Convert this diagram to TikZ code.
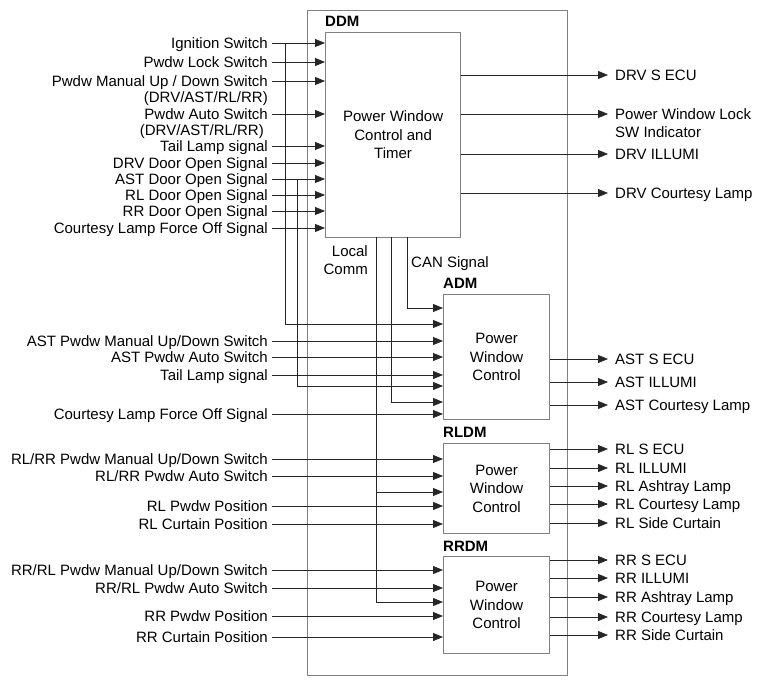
\documentclass[tikz,border=0pt]{standalone}
\usepackage{fontspec}
\setmainfont{Liberation Sans}
\usetikzlibrary{arrows.meta}
\begin{document}
\begin{tikzpicture}[x=1pt,y=-1pt,
  lbl/.style={inner sep=0pt, text height=10.8pt, text depth=0pt, font=\fontsize{15}{16}\selectfont},
  inl/.style={lbl, anchor=east},
  outl/.style={lbl, anchor=west},
  box/.style={draw=black!50, line width=1.2pt, anchor=north west, inner sep=0pt},
  boxtext/.style={align=center, font=\fontsize{15}{18.5}\selectfont},
  title/.style={inner sep=0pt, anchor=base west, font=\fontsize{15}{16}\selectfont\bfseries},
  conn/.style={draw=black!85, line width=0.8pt},
  arr/.style={conn, -{Triangle[length=10pt,width=8pt]}},
]
\useasboundingbox (0,0) rectangle (765,685);

% boxes
\node[box, minimum width=260pt, minimum height=665pt] (outer) at (307,10) {};
\node[box, boxtext, minimum width=135pt, minimum height=205pt] (ddm) at (325,32) {Power Window\\Control and\\Timer};
\node[box, boxtext, minimum width=106pt, minimum height=125pt] (adm) at (443,294) {Power\\Window\\Control};
\node[box, boxtext, minimum width=106pt, minimum height=90pt] (rldm) at (443,443) {Power\\Window\\Control};
\node[box, boxtext, minimum width=106pt, minimum height=97pt] (rrdm) at (443,556) {Power\\Window\\Control};

% titles
\node[title] (tddm) at (325,27) {DDM};
\node[title] (tadm) at (443,288) {ADM};
\node[title] (trldm) at (443,437) {RLDM};
\node[title] (trrdm) at (443,551) {RRDM};
\node[inner sep=0pt, anchor=east, align=right, font=\fontsize{15}{18}\selectfont] (lcomm) at (368,260.5) {Local\\Comm};
\node[lbl, anchor=west] (can) at (411,262) {CAN Signal};

% DDM inputs
\node[inl] (i1) at (268,43) {Ignition Switch};
\node[inl] (i2) at (268,62) {Pwdw Lock Switch};
\node[inl] (i3) at (268,81) {Pwdw Manual Up / Down Switch};
\node[inl] (i3b) at (268,97) {(DRV/AST/RL/RR)};
\node[inl] (i4) at (268,114) {Pwdw Auto Switch};
\node[inl] (i4b) at (264,130) {(DRV/AST/RL/RR)};
\node[inl] (i5) at (268,146) {Tail Lamp signal};
\node[inl] (i6) at (268,163) {DRV Door Open Signal};
\node[inl] (i7) at (268,179) {AST Door Open Signal};
\node[inl] (i8) at (268,195) {RL Door Open Signal};
\node[inl] (i9) at (268,211) {RR Door Open Signal};
\node[inl] (i10) at (268,228) {Courtesy Lamp Force Off Signal};
\foreach \n in {i1,i2,i3,i4,i5,i6,i7,i8,i9,i10}
  \draw[arr] ([xshift=4pt]\n.east) -- (ddm.west |- \n);

% DDM outputs
\node[outl] (o1) at (615,75) {DRV S ECU};
\node[outl] (o2) at (615,114) {Power Window Lock};
\node[outl] (o2b) at (615,132) {SW Indicator};
\node[outl] (o3) at (615,154) {DRV ILLUMI};
\node[outl] (o4) at (615,193) {DRV Courtesy Lamp};
\foreach \n in {o1,o2,o3,o4}
  \draw[arr] (ddm.east |- \n) -- ([xshift=-7pt]\n.west);

% ADM inputs
\node[inl] (a1) at (268,341) {AST Pwdw Manual Up/Down Switch};
\node[inl] (a2) at (268,357) {AST Pwdw Auto Switch};
\node[inl] (a3) at (268,375) {Tail Lamp signal};
\node[inl] (a4) at (268,414) {Courtesy Lamp Force Off Signal};
\foreach \n in {a1,a2,a3,a4}
  \draw[arr] ([xshift=4pt]\n.east) -- (adm.west |- \n);

% ADM outputs
\node[outl] (ao1) at (615,359) {AST S ECU};
\node[outl] (ao2) at (615,382) {AST ILLUMI};
\node[outl] (ao3) at (615,405) {AST Courtesy Lamp};
\foreach \n in {ao1,ao2,ao3}
  \draw[arr] (adm.east |- \n) -- ([xshift=-7pt]\n.west);

% RLDM inputs
\node[inl] (r1) at (268,459) {RL/RR Pwdw Manual Up/Down Switch};
\node[inl] (r2) at (268,476) {RL/RR Pwdw Auto Switch};
\node[inl] (r3) at (268,506) {RL Pwdw Position};
\node[inl] (r4) at (268,524) {RL Curtain Position};
\foreach \n in {r1,r2,r3,r4}
  \draw[arr] ([xshift=4pt]\n.east) -- (rldm.west |- \n);

% RLDM outputs
\node[outl] (ro1) at (615,449) {RL S ECU};
\node[outl] (ro2) at (615,468) {RL ILLUMI};
\node[outl] (ro3) at (615,486) {RL Ashtray Lamp};
\node[outl] (ro4) at (615,504) {RL Courtesy Lamp};
\node[outl] (ro5) at (615,523) {RL Side Curtain};
\foreach \n in {ro1,ro2,ro3,ro4,ro5}
  \draw[arr] (rldm.east |- \n) -- ([xshift=-7pt]\n.west);

% RRDM inputs
\node[inl] (s1) at (268,570) {RR/RL Pwdw Manual Up/Down Switch};
\node[inl] (s2) at (268,588) {RR/RL Pwdw Auto Switch};
\node[inl] (s3) at (268,616) {RR Pwdw Position};
\node[inl] (s4) at (268,637) {RR Curtain Position};
\foreach \n in {s1,s2,s3,s4}
  \draw[arr] ([xshift=4pt]\n.east) -- (rrdm.west |- \n);

% RRDM outputs
\node[outl] (so1) at (615,560) {RR S ECU};
\node[outl] (so2) at (615,578) {RR ILLUMI};
\node[outl] (so3) at (615,597) {RR Ashtray Lamp};
\node[outl] (so4) at (615,617) {RR Courtesy Lamp};
\node[outl] (so5) at (615,635) {RR Side Curtain};
\foreach \n in {so1,so2,so3,so4,so5}
  \draw[arr] (rrdm.east |- \n) -- ([xshift=-7pt]\n.west);

% branch lines
\coordinate (j1) at (285,43);
\coordinate (j2) at (297,179);
\coordinate (b1) at (376,237);
\coordinate (b2) at (391,237);
\coordinate (b3) at (407,237);
\coordinate (ja1) at (443,308);
\coordinate (ja2) at (443,324);
\coordinate (ja3) at (443,386);
\coordinate (ja4) at (443,402);
\coordinate (jl) at (443,492);
\coordinate (jr) at (443,602);
\coordinate (k1) at (376,492);

\draw[arr] (j1) |- (ja2);
\draw[arr] (j2) |- (ja3);
\draw[arr] (b3) |- (ja1);
\draw[arr] (b2) |- (ja4);
\draw[arr] (b1) |- (jr);
\draw[arr] (k1) -- (jl);
\end{tikzpicture}
\end{document}
